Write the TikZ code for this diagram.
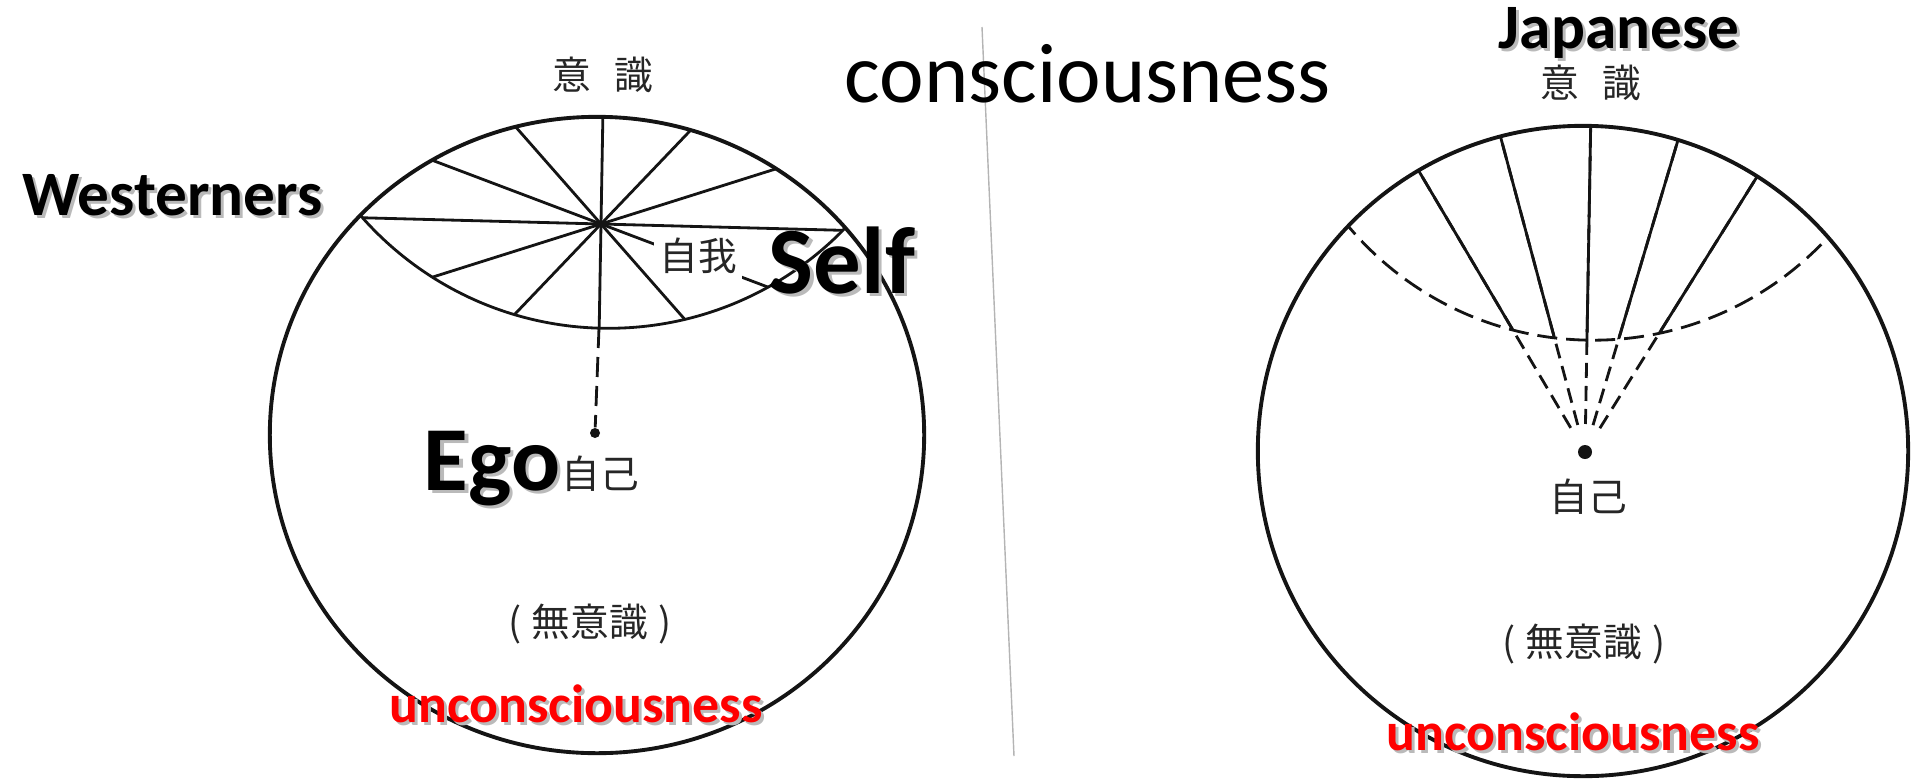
\documentclass[tikz,border=0pt]{standalone}
\usepackage{fontspec}
\setmainfont{Carlito}
\newfontfamily\jpfont{Noto Sans CJK JP}
\usetikzlibrary{positioning}
\definecolor{scanline}{HTML}{141414}
\definecolor{sepgray}{HTML}{B4B4B4}
\newcommand{\shadowed}[1]{\makebox[0pt][l]{\kern0.9pt\raisebox{-0.9pt}{\textcolor{black!27}{#1}}}#1}

\begin{document}
\begin{tikzpicture}[
    x=0.01cm, y=-0.01cm,
    every node/.style={inner sep=0pt},
    rim/.style={draw=scanline, line width=1.1pt},
    spoke/.style={draw=scanline, line width=0.8pt},
    brokenline/.style={draw=scanline, line width=0.8pt, dash pattern=on 0.2cm off 0.09cm},
    raydash/.style={dash pattern=on 0.15cm off 0.08cm},
    dotmark/.style={circle, fill=scanline, minimum size=#1},
    kanji/.style={font=\jpfont\fontsize{11}{13}\selectfont, text=black!85},
    title/.style={font=\fontsize{24}{28}\selectfont},
    group/.style={font=\bfseries\fontsize{18}{21}\selectfont},
    biglabel/.style={font=\bfseries\fontsize{#1}{#1}\selectfont},
    redlabel/.style={font=\bfseries\fontsize{15.3}{17}\selectfont, text=red},
  ]
  \useasboundingbox (0,0) rectangle (1911,781);

  % page fold between the two figures
  \draw[sepgray, line width=0.4pt] (982,27) -- (1014,756);

  % Westerners: ego at the centre of a lens of consciousness
  \coordinate (wc) at (597,435);
  \coordinate (hub) at (601,224);
  \coordinate (lenscen) at (608.6,-0.9);
  \coordinate (lensbot) at (599,328);
  \draw[rim] (wc) ellipse [x radius=3.27cm, y radius=3.18cm];
  \begin{scope}
    \clip (wc) ellipse [x radius=3.27cm, y radius=3.18cm];
    \draw[spoke] (lenscen) circle [radius=3.29cm];
    \clip (lenscen) circle [radius=3.29cm];
    \foreach \a in {-1.5, 89, -20.7, -48.7, 46.3, 17.5}
      \draw[spoke] (hub) ++(\a:4cm) -- ++(\a+180:8cm);
  \end{scope}
  \node[dotmark=0.06cm] (hubdot) at (hub) {};
  \node[dotmark=0.1cm] (wcore) at (595,433) {};
  \draw[brokenline] (lensbot) -- (wcore);

  \node[kanji] (wconsc) at (603,75) {意\hspace{6.8pt}識};
  \node[kanji, fill=white, inner sep=1.5pt] (jiga) at (698,256) {自我};
  \node[kanji] (wjiko) at (600,474) {自己};
  \node[kanji] (wmu) at (590,624) {(\hspace{3pt}無意識\hspace{3pt})};

  % Japanese: self deep down, consciousness fanned out above
  \coordinate (jc) at (1583,451);
  \coordinate (jcore) at (1585,452);
  \coordinate (fancen) at (1593,20.5);
  \draw[rim] (jc) circle [radius=3.25cm];
  \begin{scope}
    \clip (jc) circle [radius=3.25cm];
    \draw[brokenline] (fancen) circle [radius=3.195cm];
    \foreach \a in {120.6, 105, 89, 73.4, 58}
      \draw[spoke, raydash] (jcore) ++(\a:0.28cm) -- ++(\a:4cm);
    \clip (fancen) circle [radius=3.195cm];
    \foreach \a in {120.6, 105, 89, 73.4, 58}
      \draw[spoke] (jcore) -- ++(\a:4cm);
  \end{scope}
  \node[dotmark=0.14cm] (jdot) at (jcore) {};

  \node[kanji] (jconsc) at (1591,83) {意\hspace{6.8pt}識};
  \node[kanji] (jjiko) at (1588,497) {自己};
  \node[kanji] (jmu) at (1584,644) {(\hspace{3pt}無意識\hspace{3pt})};

  % English labels
  \node[title, anchor=base] (consc) at (1088,102) {consciousness};
  \node[group, anchor=base west] (west) at (22,215) {\shadowed{Westerners}};
  \node[group, anchor=base] (japan) at (1619,48) {\shadowed{Japanese}};
  \node[biglabel=27, anchor=base] (self) at (842,293) {\shadowed{Self}};
  \node[biglabel=26, anchor=base] (ego) at (492,490) {\shadowed{Ego}};
  \node[redlabel, anchor=base] (wred) at (576,722) {\shadowed{unconsciousness}};
  \node[redlabel, anchor=base] (jred) at (1573,750) {\shadowed{unconsciousness}};
\end{tikzpicture}
\end{document}
